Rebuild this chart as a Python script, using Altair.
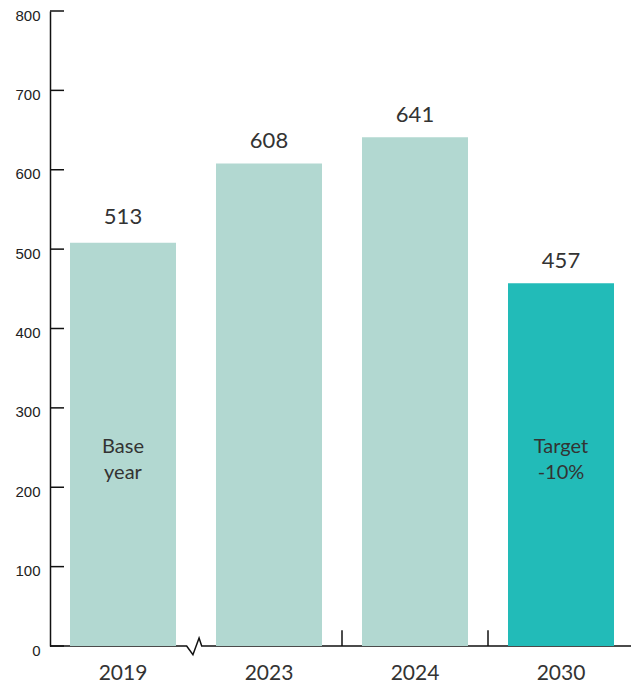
import altair as alt
import pandas as pd

# ---- data ----
years = ["2019", "2023", "2024", "2030"]
bar_values = [508, 608, 641, 457]
label_values = [513, 608, 641, 457]
bar_colors = ["#b2d8d1", "#b2d8d1", "#b2d8d1", "#22bbb8"]
inner_labels = ["Base\nyear", "", "", "Target\n-10%"]
y_ticks = [0, 100, 200, 300, 400, 500, 600, 700, 800]

# axis decoration (baseline with break marker between 2019 and 2023)
base_x = [0, 0.936, 0.979, 1.021, 1.039, 4]
base_y = [0, 0, -11, 10, 0, 0]
sep_x = [2, 3]

df = pd.DataFrame({"year": years, "value": bar_values, "label": label_values,
                   "color": bar_colors, "inner": inner_labels})
ticks_df = pd.DataFrame({"v": y_ticks})
base_df = pd.DataFrame({"bx": base_x, "by": base_y, "i": list(range(len(base_x)))})
sep_df = pd.DataFrame({"sx": sep_x, "s0": [0] * len(sep_x), "s1": [20] * len(sep_x)})

W = 581
H = 635
RANGE = [0, 584]
FONT = "Lato"
TXT = "#333333"
AX = "#111111"

yscale = alt.Scale(domain=[0, 800], nice=False, zero=True)
band = alt.Scale(domain=years, range=RANGE, paddingInner=0, paddingOuter=0)
lin = alt.Scale(domain=[0, 4], range=RANGE, nice=False, zero=False)

yaxis = alt.Axis(title=None, values=y_ticks, ticks=False, grid=False,
                 domainColor=AX, domainWidth=1.5,
                 labelFont="Liberation Sans", labelFontSize=15,
                 labelColor="#222222", labelPadding=10, labelOffset=4)

bars = alt.Chart(df).mark_bar(width=alt.RelativeBandSize(0.726)).encode(
    x=alt.X("year:N", scale=band, sort=years,
            axis=alt.Axis(title=None, domain=False, ticks=False, labelAngle=0,
                          orient="bottom",
                          labelFont=FONT, labelFontSize=21, labelColor=TXT,
                          labelBaseline="top", labelPadding=16)),
    y=alt.Y("value:Q", scale=yscale, axis=yaxis),
    color=alt.Color("color:N", scale=None),
)

values = alt.Chart(df).mark_text(font=FONT, fontSize=22, color=TXT,
                                 baseline="alphabetic", dy=-15).encode(
    x=alt.X("year:N", scale=band, sort=years, axis=None),
    y=alt.Y("label:Q", scale=yscale, axis=yaxis),
    text=alt.Text("label:Q"),
)

inner = alt.Chart(df).mark_text(font=FONT, fontSize=20, color=TXT,
                                baseline="alphabetic", lineBreak="\n",
                                lineHeight=26).encode(
    x=alt.X("year:N", scale=band, sort=years, axis=None),
    y=alt.datum(243),
    text="inner:N",
)

baseline = alt.Chart(base_df).mark_line(color=AX, strokeWidth=1.5).encode(
    x=alt.X("bx:Q", scale=lin, axis=None),
    y=alt.Y("by:Q", scale=yscale, axis=yaxis),
    order="i:Q",
)

seps = alt.Chart(sep_df).mark_rule(color=AX, strokeWidth=1.5).encode(
    x=alt.X("sx:Q", scale=lin, axis=None),
    y=alt.Y("s0:Q", scale=yscale, axis=yaxis),
    y2="s1:Q",
)

yticks = alt.Chart(ticks_df).mark_rule(color=AX, strokeWidth=1.5).encode(
    y=alt.Y("v:Q", scale=yscale, axis=yaxis),
    x=alt.value(0),
    x2=alt.value(14),
)

chart = alt.layer(baseline, seps, yticks, bars, values, inner).resolve_scale(
    x="independent"
).properties(
    width=W, height=H,
    background="white",
    autosize=alt.AutoSizeParams(type="none"),
    padding={"left": 50, "top": 11, "right": 0, "bottom": 43},
).configure_view(
    stroke=None, strokeWidth=0
).configure_axis(
    grid=False
)

chart.save("out.html", embed_options={"renderer": "svg", "actions": False})
